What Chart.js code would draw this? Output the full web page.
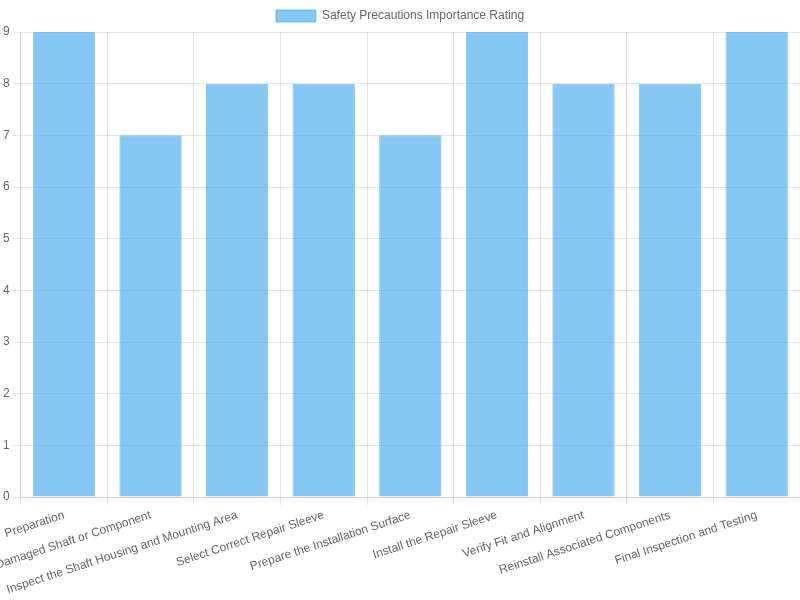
<!DOCTYPE html>
<html>
<head>
<meta charset="utf-8">
<script src="https://cdn.jsdelivr.net/npm/chart.js@4"></script>
<style>
  html, body { margin: 0; padding: 0; background: #fff; }
  .barChart { width: 800px; height: 600px; }
</style>
</head>
<body>
<div class="barChart">
	<canvas id="bar-chart"></canvas>
</div>
<script>
const steps = [
	'Preparation',
	'Remove Damaged Shaft or Component',
	'Inspect the Shaft Housing and Mounting Area',
	'Select Correct Repair Sleeve',
	'Prepare the Installation Surface',
	'Install the Repair Sleeve',
	'Verify Fit and Alignment',
	'Reinstall Associated Components',
	'Final Inspection and Testing',
];
const ratings = [9, 7, 8, 8, 7, 9, 8, 8, 9];

Chart.defaults.font.family = '"Liberation Sans", Arial, sans-serif';
Chart.defaults.color = '#666';

const ctx = document.getElementById('bar-chart').getContext('2d');

new Chart(ctx, {
	type: 'bar',
	data: {
		labels: steps,
		datasets: [
			{
				label: 'Safety Precautions Importance Rating',
				data: ratings,
				backgroundColor: 'rgba(54, 162, 235, 0.6)',
				borderColor: 'rgba(54, 162, 235, 0.6)',
				borderWidth: 1,
			},
		],
	},
	options: {
		responsive: true,
		maintainAspectRatio: false,
		animation: false,
		scales: {
			y: {
				beginAtZero: true,
				max: 9,
			},
		},
	},
});
</script>
</body>
</html>
